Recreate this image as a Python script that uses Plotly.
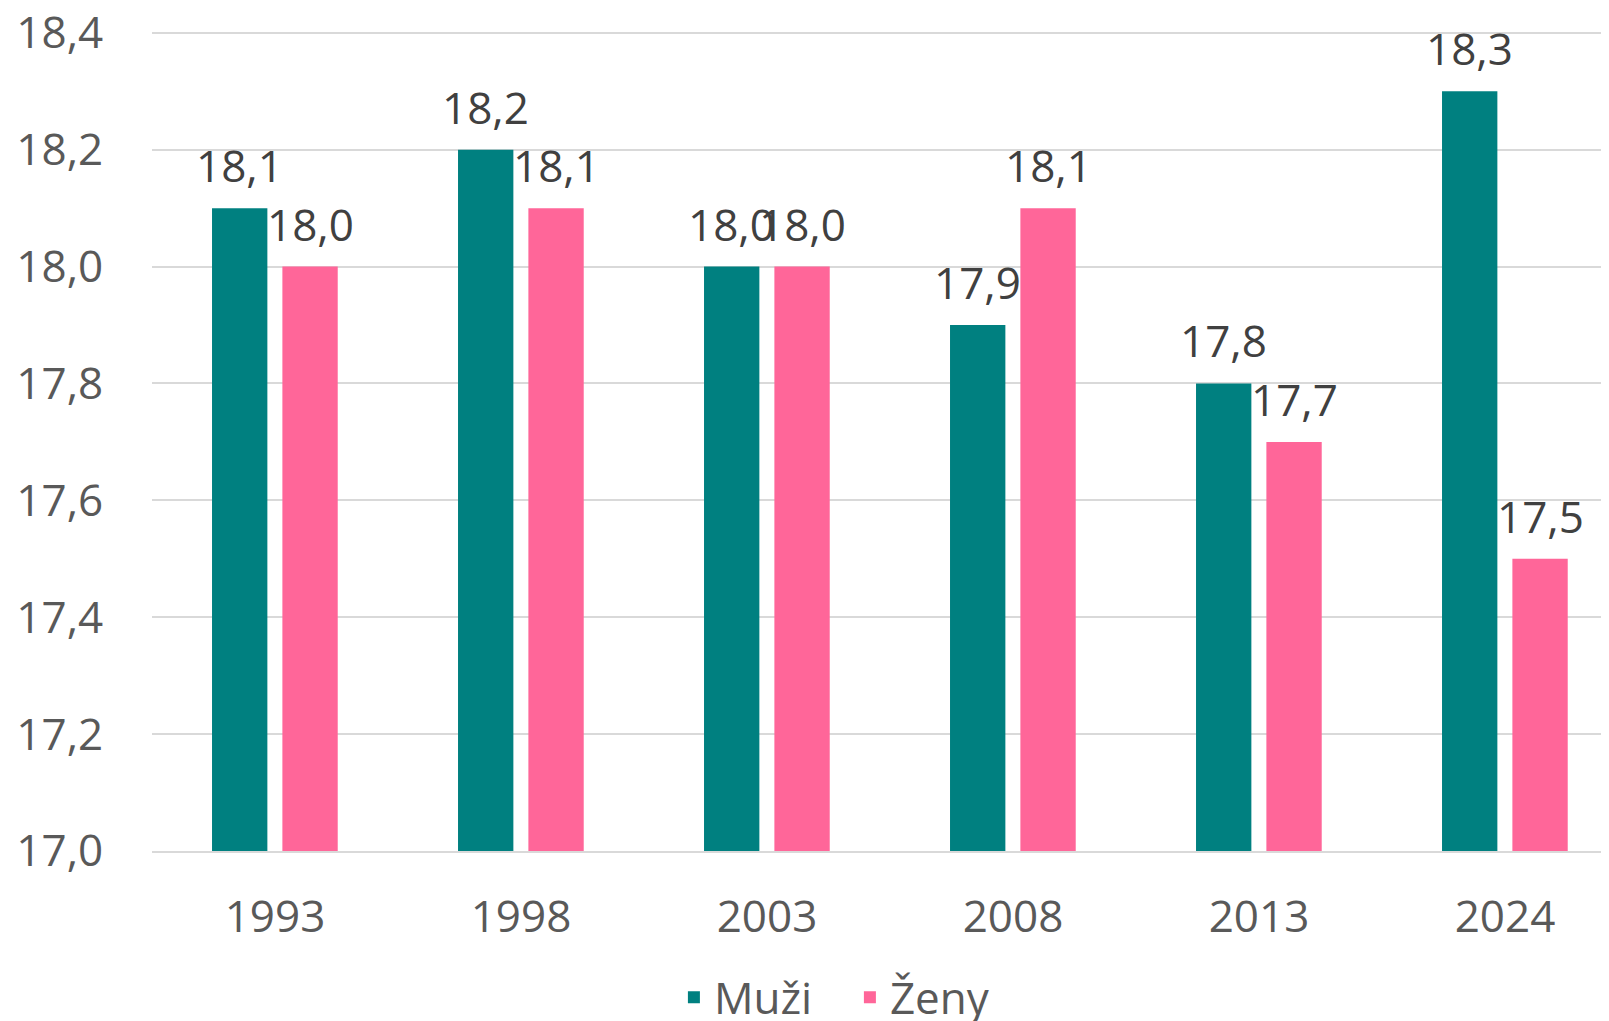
import plotly.graph_objects as go

years = ["1993", "1998", "2003", "2008", "2013", "2024"]
muzi = [18.1, 18.2, 18.0, 17.9, 17.8, 18.3]
zeny = [18.0, 18.1, 18.0, 18.1, 17.7, 17.5]

TEAL = "#008080"
PINK = "#FF6699"
FONT = "Open Sans"

BAR_W = 0.225
OFF_M = -0.256
OFF_Z = 0.030

fig = go.Figure()
fig.add_trace(go.Bar(x=years, y=muzi, name="Muži", marker=dict(color=TEAL, line=dict(width=0)),
                     width=BAR_W, offset=OFF_M))
fig.add_trace(go.Bar(x=years, y=zeny, name="Ženy", marker=dict(color=PINK, line=dict(width=0)),
                     width=BAR_W, offset=OFF_Z))

def fmt(v):
    return f"{v:.1f}".replace(".", ",")

annotations = []
for i, (m, z) in enumerate(zip(muzi, zeny)):
    for val, off in ((m, OFF_M), (z, OFF_Z)):
        annotations.append(dict(
            x=i + off + BAR_W / 2, y=val, xref="x", yref="y",
            text=fmt(val), showarrow=False, xanchor="center", yanchor="bottom",
            yshift=11, font=dict(family=FONT, size=44, color="#404040")))

# the page body has an 8px margin, so the figure is sized/offset to compensate
fig.update_layout(
    width=1601, height=1013,
    margin=dict(l=144, r=0, t=19, b=170, autoexpand=False),
    paper_bgcolor="white", plot_bgcolor="white",
    separators=", ",
    barmode="group",
    showlegend=True,
    legend=dict(orientation="h", x=0.479, xanchor="center", y=-0.178, yanchor="middle",
                entrywidth=131,
                font=dict(family=FONT, size=44, color="#595959")),
    annotations=annotations,
    xaxis=dict(type="category", range=[-0.5, 5.5 - 19 / 246], automargin=False,
               showgrid=False, showline=True, linecolor="#D9D9D9", linewidth=1.5,
               ticks="outside", ticklen=26, tickcolor="rgba(0,0,0,0)",
               tickfont=dict(family=FONT, size=44, color="#595959")),
    yaxis=dict(range=[17, 18.41], dtick=0.2, tick0=17, tickformat=".1f", automargin=False,
               ticklabeloverflow="allow",
               showgrid=True, gridcolor="#D9D9D9", gridwidth=1.5, zeroline=False,
               ticks="outside", ticklen=39, tickcolor="rgba(0,0,0,0)",
               tickfont=dict(family=FONT, size=44, color="#595959")),
)

fig.write_html("out.html")
